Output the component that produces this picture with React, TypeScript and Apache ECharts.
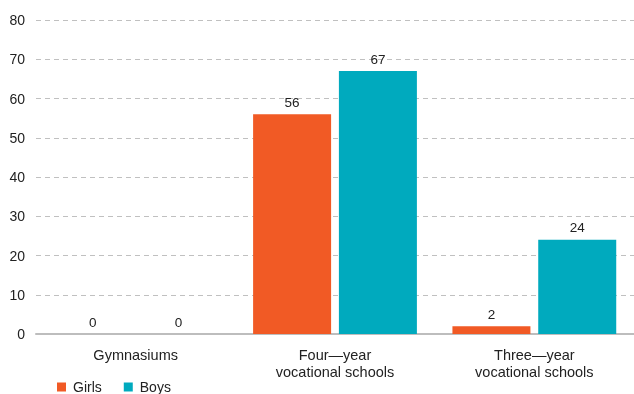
import React, { useEffect, useRef } from "react";
import * as echarts from "echarts";

const categories = ["Gymnasiums", "Four\u2014year\nvocational schools", "Three\u2014year\nvocational schools"];
const girls = [0, 56, 2];
const boys = [0, 67, 24];
const seriesNames = ["Girls", "Boys"];
const yMin = 0;
const yMax = 80;
const yInterval = 10;

export default function App() {
  const ref = useRef<HTMLDivElement>(null);
  useEffect(() => {
    if (!ref.current) return;
    const chart = echarts.init(ref.current, undefined, { renderer: "svg" });
    const font = "Liberation Sans, Arial, sans-serif";
    const label = {
      show: true,
      position: "top" as const,
      distance: 5,
      color: "#222",
      fontSize: 13.5,
      fontFamily: font,
    };
    chart.setOption({
      animation: false,
      textStyle: { fontFamily: font },
      grid: { left: 36, right: 0, top: 20, bottom: 60, containLabel: false },
      legend: {
        data: seriesNames,
        left: 57,
        top: 380,
        padding: 0,
        itemWidth: 9,
        itemHeight: 9,
        itemGap: 22,
        icon: "rect",
        textStyle: { color: "#222", fontSize: 14, fontFamily: font, padding: [0, 0, 0, 2] },
      },
      xAxis: {
        type: "category",
        data: categories,
        axisTick: { show: false },
        axisLine: { lineStyle: { color: "#bdbdbd", width: 2 } },
        axisLabel: { color: "#222", fontSize: 14.5, fontFamily: font, margin: 12, lineHeight: 17, interval: 0 },
      },
      yAxis: {
        type: "value",
        min: yMin,
        max: yMax,
        interval: yInterval,
        axisLine: { show: false },
        axisTick: { show: false },
        axisLabel: { color: "#222", fontSize: 14, fontFamily: font, margin: 11 },
        splitLine: { lineStyle: { color: "#c0c0c0", type: [5, 4], width: 1 } },
      },
      series: [
        {
          name: seriesNames[0],
          type: "bar",
          data: girls,
          barWidth: 78,
          barGap: "10%",
          itemStyle: { color: "#F15A25" },
          label,
        },
        {
          name: seriesNames[1],
          type: "bar",
          data: boys,
          barWidth: 78,
          barGap: "10%",
          itemStyle: { color: "#00AABE" },
          label,
        },
      ],
    });
    return () => chart.dispose();
  }, []);
  return <div ref={ref} style={{ width: 634, height: 394, position: "fixed", left: 0, top: 0 }} />;
}
